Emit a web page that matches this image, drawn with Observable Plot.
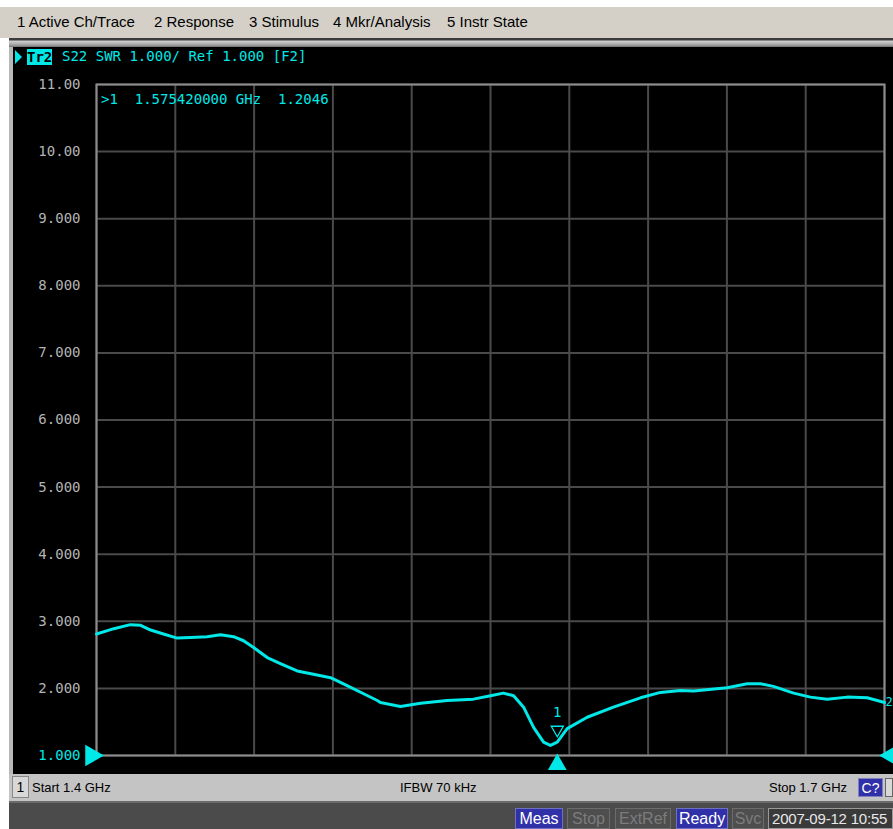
<!DOCTYPE html>
<html><head><meta charset="utf-8">
<script src="https://cdn.jsdelivr.net/npm/d3@7"></script>
<script src="https://cdn.jsdelivr.net/npm/@observablehq/plot@0.6"></script>
<style>
html,body{margin:0;padding:0;width:893px;height:829px;overflow:hidden;background:#fff;position:relative;}
#menu{position:absolute;left:0;top:7px;width:893px;height:31px;background:#d4d0c8;}
.mi{position:absolute;top:6px;font:15px "Liberation Sans",Arial,sans-serif;color:#000;white-space:nowrap;}
#bord{position:absolute;left:9px;top:38px;width:884px;height:9px;background:linear-gradient(#3c3c3c 0,#3c3c3c 2px,#d0d0d0 3px,#a0a0a0 7px,#707070 9px);}
#screen{position:absolute;left:9px;top:47px;width:884px;height:727px;background:#000;border-left:4px solid #b8b8b8;box-sizing:border-box;}
#chart{position:absolute;left:10px;top:46px;}
.mono{position:absolute;font:14px "DejaVu Sans Mono","Liberation Mono",monospace;color:#00e8e8;white-space:pre;}
#tri{position:absolute;left:15px;top:50px;width:0;height:0;border-top:7px solid transparent;border-bottom:7px solid transparent;border-left:7px solid #00e8e8;}
#tr2{position:absolute;left:27px;top:49px;width:25px;height:16px;background:#00e8e8;color:#000;font:bold 14px "DejaVu Sans Mono",monospace;line-height:16px;text-align:center;}
#status{position:absolute;left:9px;top:774px;width:884px;height:29px;background:#c4c4c4;border-bottom:2px solid #6a6a6a;box-sizing:border-box;}
.st{position:absolute;top:6px;font:13px "Liberation Sans",Arial,sans-serif;color:#000;white-space:nowrap;}
#one{position:absolute;left:3px;top:2px;width:15px;height:20px;border:1px solid #888;background:#d8d8d8;font:14px "Liberation Sans",sans-serif;text-align:center;line-height:20px;}
#cq{position:absolute;left:849px;top:4px;width:25px;height:19px;background:#3030a8;color:#fff;font:14px "Liberation Sans",sans-serif;text-align:center;line-height:19px;border:1px solid #8080c0;box-sizing:border-box;}
#cq2{position:absolute;left:876px;top:4px;width:8px;height:19px;background:#d8d8d8;border:1px solid #666;box-sizing:border-box;}
#foot{position:absolute;left:9px;top:803px;width:884px;height:26px;background:#4b4b4b;}
.fb{position:absolute;top:5px;height:21px;box-sizing:border-box;font:16px "Liberation Sans",Arial,sans-serif;line-height:20px;text-align:center;white-space:nowrap;}
.on{background:#3030a8;color:#fff;border:1px solid #7070c0;}
.off{background:#4e4e4e;color:#7c7c7c;border:1px solid #6c6c6c;}
.dt{background:#3a3a3a;color:#e8e8e8;border:1px solid #9a9a9a;text-align:left;padding-left:3px;font-size:15px;letter-spacing:-0.2px;}
</style></head>
<body>
<div id="menu"></div>
<div id="bord"></div>
<div id="screen"></div>
<div id="chart"></div>
<div id="tri"></div>
<div id="tr2">Tr2</div>
<div id="hdr" class="mono" style="left:62px;top:48px;"></div>
<div id="mkr" class="mono" style="left:101px;top:91px;"></div>
<div id="status"><div id="one">1</div><div class="st" id="start" style="left:23px;"></div><div class="st" id="ifbw" style="left:391px;"></div><div class="st" id="stop" style="left:760px;"></div><div id="cq">C?</div><div id="cq2"></div></div>
<div id="foot"></div>
<script>
// ---- data ----
const menuItems = ["1 Active Ch/Trace", "2 Response", "3 Stimulus", "4 Mkr/Analysis", "5 Instr State"];
const menuX = [17, 154, 249, 333, 447];
const traceHeader = "S22 SWR 1.000/ Ref 1.000 [F2]";
const freqGHz = [1.4000,1.4066,1.4129,1.4168,1.4206,1.4255,1.4307,1.4358,1.4421,1.4472,1.4522,1.4560,1.4598,1.4650,1.4700,1.4764,1.4826,1.4891,1.4954,1.5017,1.5069,1.5081,1.5157,1.5234,1.5335,1.5435,1.5500,1.5549,1.5588,1.5626,1.5664,1.5702,1.5728,1.5754,1.5792,1.5868,1.5968,1.6071,1.6147,1.6223,1.6273,1.6401,1.6477,1.6528,1.6577,1.6654,1.6718,1.6782,1.6858,1.6934,1.7000];
const swr = [2.81,2.89,2.95,2.94,2.87,2.81,2.75,2.76,2.77,2.80,2.77,2.71,2.61,2.46,2.37,2.26,2.21,2.16,2.04,1.92,1.82,1.79,1.73,1.78,1.82,1.84,1.89,1.93,1.89,1.72,1.42,1.20,1.15,1.20,1.40,1.57,1.72,1.86,1.94,1.97,1.96,2.01,2.07,2.07,2.03,1.93,1.87,1.84,1.87,1.86,1.79];
const xTicks = [1.40,1.43,1.46,1.49,1.52,1.55,1.58,1.61,1.64,1.67,1.70];
const yTicks = [1,2,3,4,5,6,7,8,9,10,11];
const yTickLabels = ["1.000","2.000","3.000","4.000","5.000","6.000","7.000","8.000","9.000","10.00","11.00"];
const markerFreq = 1.57542;
const markerSWR = 1.2046;
const markerText = ">1  1.575420000 GHz  1.2046";
const startText = "Start 1.4 GHz", ifbwText = "IFBW 70 kHz", stopText = "Stop 1.7 GHz";
const footItems = ["Meas","Stop","ExtRef","Ready","Svc","2007-09-12 10:55"];
const footState = ["on","off","off","on","off","dt"];
const footX = [506, 558, 606, 667, 723, 759];
const footW = [48, 43, 56, 52, 32, 125];

// ---- html text ----
const menu = document.getElementById("menu");
menuItems.forEach((t,i)=>{const d=document.createElement("div");d.className="mi";d.style.left=menuX[i]+"px";d.textContent=t;menu.appendChild(d);});
document.getElementById("hdr").textContent = traceHeader;
document.getElementById("mkr").textContent = markerText;
document.getElementById("start").textContent = startText;
document.getElementById("ifbw").textContent = ifbwText;
document.getElementById("stop").textContent = stopText;
const foot = document.getElementById("foot");
footItems.forEach((t,i)=>{const d=document.createElement("div");d.className="fb "+footState[i];d.style.left=footX[i]+"px";d.style.width=footW[i]+"px";d.textContent=t;foot.appendChild(d);});

// ---- chart ----
const data = freqGHz.map((f,i)=>({f, v: swr[i]}));
const ticks = yTicks.map((v,i)=>({v, label: yTickLabels[i]}));
const cyan = "#00e8e8";
const chart = Plot.plot({
  width: 883, height: 727,
  marginLeft: 86, marginRight: 9, marginTop: 38, marginBottom: 18,
  style: {background: "transparent", overflow: "visible"},
  x: {domain: [1.4, 1.7], axis: null},
  y: {domain: [1, 11], axis: null},
  marks: [
    Plot.ruleX(xTicks, {stroke: "#4a4a4a", strokeWidth: 2}),
    Plot.ruleY(yTicks, {stroke: "#4a4a4a", strokeWidth: 2}),
    Plot.frame({stroke: "#8c8c8c", strokeWidth: 2}),
    Plot.text(ticks.filter(d=>d.v!==1), {x: 1.4, y: "v", text: "label", dx: -16, textAnchor: "end", fill: "#b4b4b4", fontSize: 14, fontFamily: "DejaVu Sans Mono, monospace"}),
    Plot.text(ticks.filter(d=>d.v===1), {x: 1.4, y: "v", text: "label", dx: -16, textAnchor: "end", fill: cyan, fontSize: 14, fontFamily: "DejaVu Sans Mono, monospace"}),
    Plot.line(data, {x: "f", y: "v", stroke: cyan, strokeWidth: 3}),
    Plot.text([data[data.length-1]], {x: "f", y: "v", text: () => "2", dx: 1, textAnchor: "start", fill: cyan, fontSize: 12, fontFamily: "DejaVu Sans Mono, monospace"}),
    Plot.dot([{f: markerFreq, v: markerSWR}], {x: "f", y: "v", symbol: "triangle", rotate: 180, r: 4.5, dy: -12, stroke: cyan, fill: "none", strokeWidth: 1.3}),
    Plot.text([{f: markerFreq, v: markerSWR}], {x: "f", y: "v", text: () => "1", dy: -29, fill: cyan, fontSize: 14, fontFamily: "DejaVu Sans Mono, monospace"}),
    Plot.dot([{f: markerFreq, v: 1}], {x: "f", y: "v", symbol: "triangle", r: 7, dy: 9, fill: cyan}),
    Plot.dot([{f: 1.4, v: 1}], {x: "f", y: "v", symbol: "triangle", rotate: 90, r: 8, dx: -5, fill: cyan}),
    Plot.dot([{f: 1.7, v: 1}], {x: "f", y: "v", symbol: "triangle", rotate: -90, r: 8, dx: 7, fill: cyan})
  ]
});
document.getElementById("chart").appendChild(chart);
</script>
</body></html>
